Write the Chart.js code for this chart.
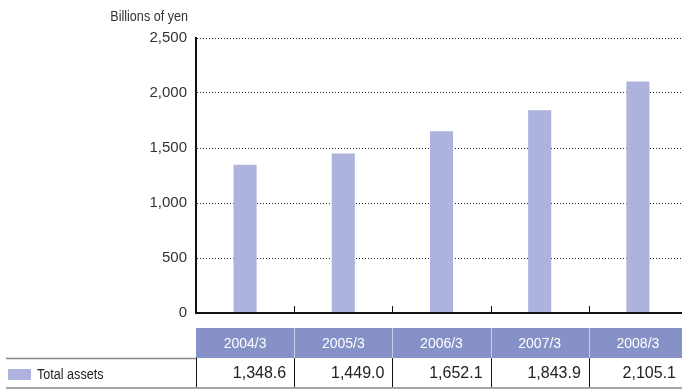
<!DOCTYPE html>
<html>
<head>
<meta charset="utf-8">
<script src="https://cdn.jsdelivr.net/npm/chart.js@4/dist/chart.umd.min.js"></script>
<style>
  html, body { margin: 0; padding: 0; overflow: hidden; background: #fff; }
  #wrap { position: relative; width: 688px; height: 391px; }
</style>
</head>
<body>
<div id="wrap"><canvas id="c" width="688" height="391"></canvas></div>
<script>
// Fiscal year-end periods and total assets (billions of yen)
const periods = ['2004/3', '2005/3', '2006/3', '2007/3', '2008/3'];
const totalAssets = [1348.6, 1449.0, 1652.1, 1843.9, 2105.1];
const valueLabels = ['1,348.6', '1,449.0', '1,652.1', '1,843.9', '2,105.1'];
const seriesName = 'Total assets';
const unitLabel = 'Billions of yen';

const BAR = '#adb3dc';
const HEAD = '#8591c7';

// Pick the first installed family from a list (width test against a generic fallback)
function pickFont(candidates, fallback) {
  const cv = document.createElement('canvas').getContext('2d');
  const sample = 'Billions 1,348.6 mwWil';
  for (const base of ['monospace', 'serif']) {
    cv.font = '40px ' + base;
    const w0 = cv.measureText(sample).width;
    for (const f of candidates) {
      cv.font = '40px "' + f + '", ' + base;
      if (Math.abs(cv.measureText(sample).width - w0) > 0.5) return '"' + f + '"';
    }
  }
  return fallback;
}
const SANS = pickFont(['Liberation Sans', 'Arimo', 'Arial', 'Helvetica', 'Roboto'], 'sans-serif') + ', sans-serif';

// Condensed caption text: regular face squeezed horizontally
function drawCondensed(ctx, text, x, y, size, align) {
  const sx = 0.9;
  ctx.save();
  ctx.font = size + 'px ' + SANS;
  ctx.textBaseline = 'middle';
  ctx.textAlign = 'left';
  const w = ctx.measureText(text).width * sx;
  const left = align === 'right' ? x - w : x;
  ctx.translate(left, y);
  ctx.scale(sx, 1);
  ctx.fillText(text, 0, 0);
  ctx.restore();
}

// Draws the unit caption, the x axis baseline with its inner ticks and the data table below
const tablePlugin = {
  id: 'tablePlugin',
  afterDraw(chart) {
    const ctx = chart.ctx;
    const area = chart.chartArea;
    const x = chart.scales.x;
    const n = periods.length;
    const step = (x.getPixelForValue(1) - x.getPixelForValue(0));
    const edges = [];
    for (let i = 0; i <= n; i++) edges.push(x.getPixelForValue(i) - step / 2);
    const rightEdge = 682;

    ctx.save();
    // unit caption
    ctx.fillStyle = '#333';
    drawCondensed(ctx, unitLabel, 188, 17, 14, 'right');

    // x axis baseline and ticks pointing up
    ctx.strokeStyle = '#111';
    ctx.lineWidth = 2;
    ctx.beginPath();
    ctx.moveTo(area.left - 1, area.bottom);
    ctx.lineTo(area.right, area.bottom);
    ctx.stroke();
    ctx.lineWidth = 1;
    for (let i = 1; i < n; i++) {
      const ex = Math.round(edges[i]) + 0.5;
      ctx.beginPath();
      ctx.moveTo(ex, area.bottom - 7);
      ctx.lineTo(ex, area.bottom);
      ctx.stroke();
    }

    // header row
    const hTop = 328, hBot = 358, vBot = 388;
    ctx.fillStyle = HEAD;
    ctx.fillRect(edges[0], hTop, rightEdge - edges[0], hBot - hTop);
    ctx.strokeStyle = '#c9cde9';
    ctx.lineWidth = 1;
    for (let i = 1; i < n; i++) {
      const ex = Math.round(edges[i]) + 0.5;
      ctx.beginPath();
      ctx.moveTo(ex, hTop);
      ctx.lineTo(ex, hBot);
      ctx.stroke();
    }
    ctx.fillStyle = '#fff';
    ctx.font = '14px ' + SANS;
    ctx.textAlign = 'center';
    ctx.textBaseline = 'middle';
    for (let i = 0; i < n; i++) {
      ctx.fillText(periods[i], x.getPixelForValue(i), (hTop + hBot) / 2 + 1);
    }

    // value row
    ctx.strokeStyle = '#888';
    ctx.lineWidth = 1.5;
    ctx.beginPath();
    ctx.moveTo(6, hBot + 0.5);
    ctx.lineTo(edges[0], hBot + 0.5);
    ctx.stroke();
    ctx.beginPath();
    ctx.moveTo(6, vBot);
    ctx.lineTo(rightEdge, vBot);
    ctx.stroke();

    ctx.strokeStyle = '#111';
    ctx.lineWidth = 1;
    for (let i = 0; i < n; i++) {
      const ex = Math.round(edges[i]) + 0.5;
      ctx.beginPath();
      ctx.moveTo(ex, hBot);
      ctx.lineTo(ex, vBot - 1);
      ctx.stroke();
    }
    ctx.fillStyle = '#222';
    ctx.font = '16px ' + SANS;
    ctx.textAlign = 'right';
    for (let i = 0; i < n; i++) {
      const r = Math.min(edges[i + 1], rightEdge + 2) - 8;
      ctx.fillText(valueLabels[i], r, (hBot + vBot) / 2 + 1);
    }

    // legend swatch and series name
    ctx.fillStyle = BAR;
    ctx.fillRect(8, 369, 23, 11);
    ctx.fillStyle = '#222';
    drawCondensed(ctx, seriesName, 37, 375, 14, 'left');
    ctx.restore();
  }
};

new Chart(document.getElementById('c'), {
  type: 'bar',
  data: {
    labels: periods,
    datasets: [{
      label: seriesName,
      data: totalAssets,
      backgroundColor: BAR,
      borderWidth: 0,
      categoryPercentage: 1,
      barPercentage: 0.235
    }]
  },
  options: {
    responsive: false,
    animation: false,
    layout: { padding: { left: 0, right: 1, top: 38, bottom: 78 } },
    plugins: { legend: { display: false }, tooltip: { enabled: false } },
    scales: {
      x: { display: false },
      y: {
        min: 0,
        max: 2500,
        afterFit(scale) { scale.width = 196; },
        ticks: {
          stepSize: 500,
          padding: 9,
          color: '#333',
          font: { family: SANS, size: 15 },
          callback: v => v.toLocaleString('en-US')
        },
        grid: { drawTicks: false, color: '#222', lineWidth: 1 },
        border: { display: true, color: '#111', width: 2, dash: [1, 2] }
      }
    }
  },
  plugins: [tablePlugin]
});
</script>
</body>
</html>
